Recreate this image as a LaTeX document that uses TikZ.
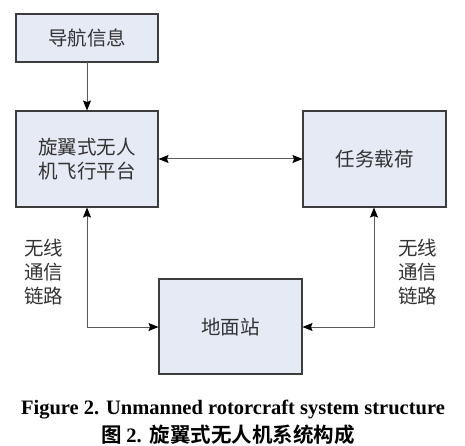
\documentclass[tikz,border=0pt]{standalone}
\usepackage{fontspec}
\setmainfont{Liberation Serif}
\newfontfamily\cjk{Noto Sans CJK SC}
\newfontfamily\cjkb{Noto Sans CJK SC Bold}
\usetikzlibrary{arrows.meta}
\definecolor{boxfill}{RGB}{230,234,245}
\definecolor{edge}{RGB}{60,60,60}
\begin{document}
\begin{tikzpicture}[x=1pt,y=-1pt,
  blk/.style={draw=edge,line width=1.2pt,fill=boxfill,inner sep=0pt},
  lbl/.style={font=\cjk\fontsize{19.5}{24}\selectfont,text=black!80,align=center},
  tip/.tip={Stealth[length=10pt,width=8pt,inset=1.5pt,color=black]},
  conn/.style={draw=black!65,line width=1pt,-tip},
  conn2/.style={draw=black!65,line width=1pt,tip-tip}]
\useasboundingbox (0,0) rectangle (465,446);
\fill[white] (0,0) rectangle (465,446);
\path[blk] (16,14) rectangle (158,62);
\node[lbl] (nav) at (87,38) {导航信息};
\coordinate (navb) at (87,62);
\path[blk] (16,111) rectangle (158,207);
\node[lbl] (uav) at (87,159) {旋翼式无人\\机飞行平台};
\coordinate (uavt) at (87,110.5);
\coordinate (uavr) at (158.5,159);
\coordinate (uavb) at (87,207.5);
\path[blk] (303,111) rectangle (446,207);
\node[lbl] (pay) at (374.5,159) {任务载荷};
\coordinate (payl) at (302.5,159);
\coordinate (payb) at (374,207.5);
\path[blk] (159,279) rectangle (302,374);
\node[lbl] (gs) at (230.5,327) {地面站};
\coordinate (gsl) at (158.5,327);
\coordinate (gsr) at (302.5,327);
\coordinate (lc) at (87,327);
\coordinate (rc) at (374,327);
\draw[conn] (navb) -- (uavt);
\draw[conn2] (uavr) -- (payl);
\draw[conn2] (uavb) -- (lc) -- (gsl);
\draw[conn2] (payb) -- (rc) -- (gsr);
\node[lbl] (wl) at (43.5,272) {无线\\通信\\链路};
\node[lbl] (wr) at (417.5,272) {无线\\通信\\链路};
\node[font=\bfseries\fontsize{20.5}{24}\selectfont] (cap1) at (233,410) {Figure 2. Unmanned rotorcraft system structure};
\node[font=\cjkb\fontsize{20.5}{24}\selectfont] (cap2) at (228,435) {图 {\bfseries\rmfamily 2.}\hspace{8pt}旋翼式无人机系统构成};
\end{tikzpicture}
\end{document}
